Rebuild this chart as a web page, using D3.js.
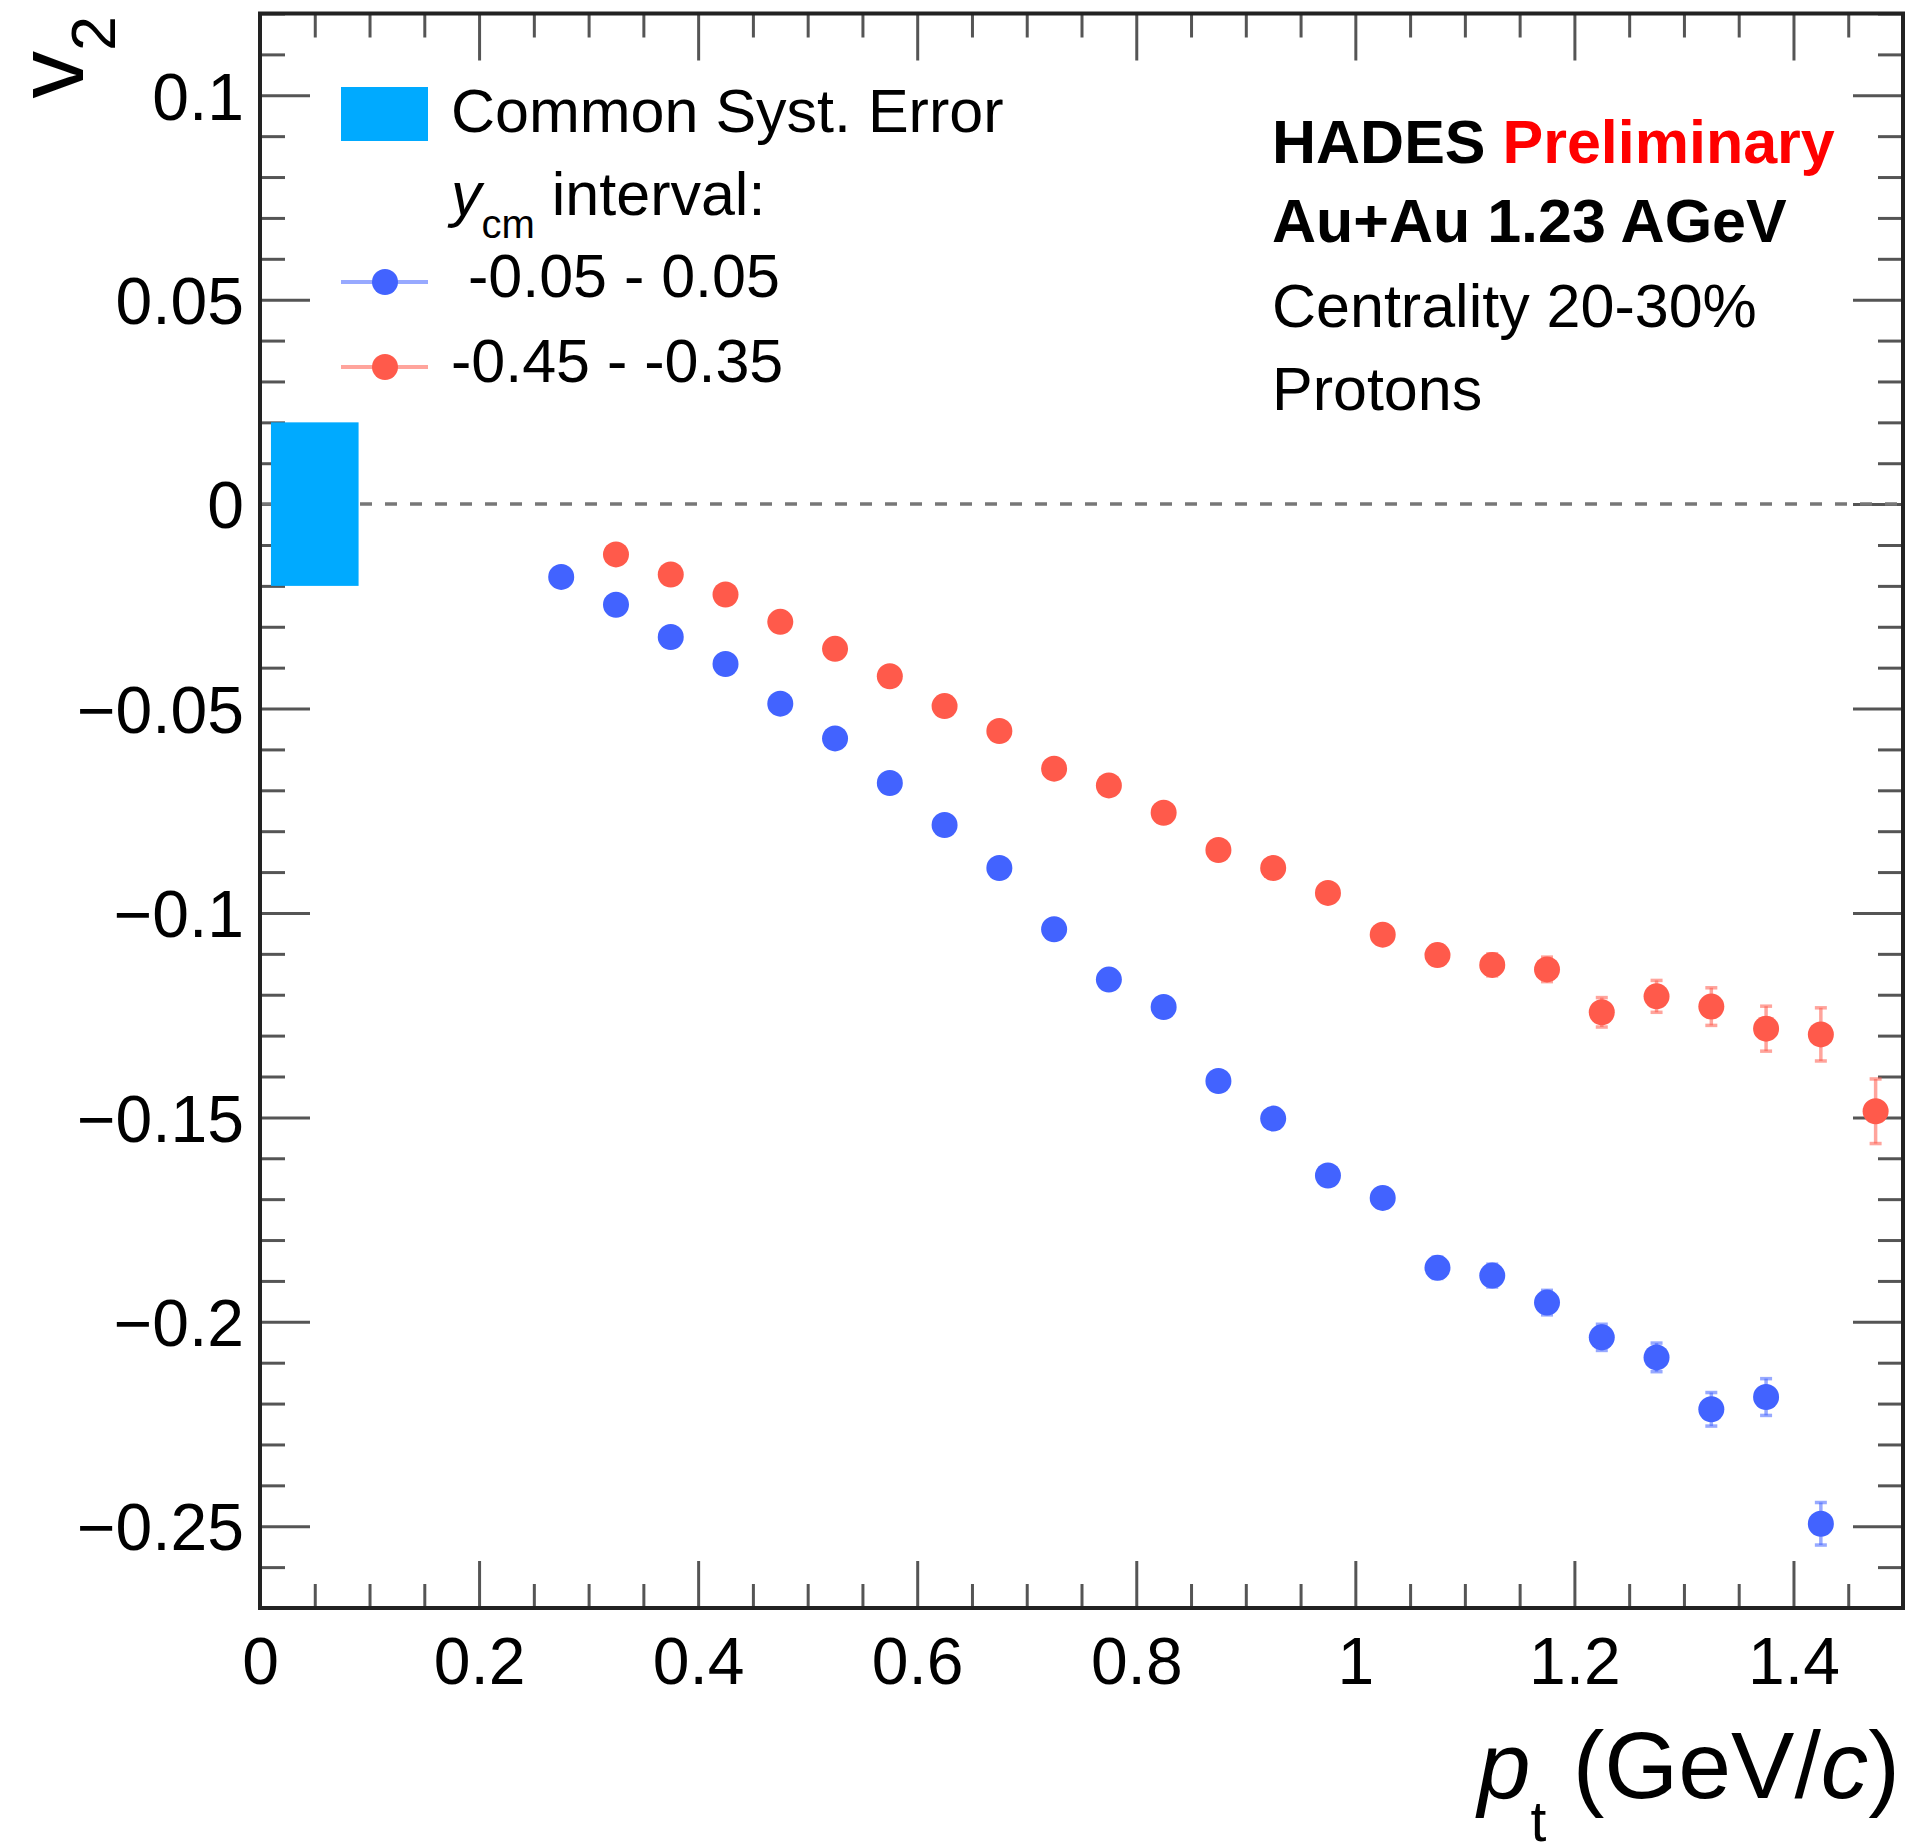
<!DOCTYPE html>
<html>
<head>
<meta charset="utf-8">
<script src="https://cdn.jsdelivr.net/npm/d3@7"></script>
<style>
  html, body { margin: 0; padding: 0; background: #fff; }
  svg { display: block; font-family: "Liberation Sans", Arial, Helvetica, sans-serif; }
</style>
</head>
<body>
<svg id="chart" width="1911" height="1847"></svg>
<script>
// ---------------- data ----------------
const xMajorTicks = [0, 0.2, 0.4, 0.6, 0.8, 1, 1.2, 1.4];
const yMajorTicks = [-0.25, -0.2, -0.15, -0.1, -0.05, 0, 0.05, 0.1];

const ptMid = [0.275, 0.325, 0.375, 0.425, 0.475, 0.525, 0.575, 0.625, 0.675, 0.725, 0.775, 0.825,
               0.875, 0.925, 0.975, 1.025, 1.075, 1.125, 1.175, 1.225, 1.275, 1.325, 1.375, 1.425];
const v2Mid = [-0.0178, -0.0246, -0.0325, -0.0391, -0.0488, -0.0573, -0.0682, -0.0785, -0.0890, -0.1040,
               -0.1163, -0.1230, -0.1411, -0.1503, -0.1642, -0.1697, -0.1868, -0.1887, -0.1953, -0.2038,
               -0.2087, -0.2214, -0.2184, -0.2494];
const errMid = [0.0008, 0.0008, 0.0009, 0.0010, 0.0010, 0.0011, 0.0012, 0.0013, 0.0014, 0.0015,
                0.0016, 0.0018, 0.0019, 0.0020, 0.0022, 0.0024, 0.0026, 0.0028, 0.0030, 0.0032,
                0.0035, 0.0041, 0.0045, 0.0052];

const ptBack = [0.325, 0.375, 0.425, 0.475, 0.525, 0.575, 0.625, 0.675, 0.725, 0.775, 0.825, 0.875,
                0.925, 0.975, 1.025, 1.075, 1.125, 1.175, 1.225, 1.275, 1.325, 1.375, 1.425, 1.475];
const v2Back = [-0.0123, -0.0172, -0.0221, -0.0288, -0.0354, -0.0421, -0.0494, -0.0555, -0.0647, -0.0688,
                -0.0755, -0.0846, -0.0890, -0.0951, -0.1053, -0.1103, -0.1127, -0.1138, -0.1243, -0.1204,
                -0.1229, -0.1283, -0.1297, -0.1485];
const errBack = [0.0008, 0.0009, 0.0009, 0.0010, 0.0011, 0.0012, 0.0013, 0.0014, 0.0015, 0.0016,
                 0.0017, 0.0018, 0.0020, 0.0021, 0.0023, 0.0025, 0.0027, 0.0030, 0.0036, 0.0039,
                 0.0046, 0.0055, 0.0065, 0.0079];

// common systematic error box: pt range and v2 range
const systPt = [0.01, 0.09];
const systV2 = [-0.02, 0.02];

const legendLabels = ["Common Syst. Error", " -0.05 - 0.05", "-0.45 - -0.35"];

// ---------------- layout ----------------
const svg = d3.select("#chart");
const L = 260, R = 1903, T = 13.5, B = 1608;
const x = d3.scaleLinear().domain([0, 1.5]).range([L, R]);
const y = d3.scaleLinear().domain([-0.27, 0.12]).range([B, T]);

const colMid = "#4263ff", colBack = "#ff5a4b";
const colMidLight = "rgba(66,99,255,0.55)", colBackLight = "rgba(255,90,75,0.55)";
const tickCol = "#555";

const xMinor = d3.range(0, 31).map(i => +(i * 0.05).toFixed(3)).filter(v => !xMajorTicks.includes(+v.toFixed(2)) && v <= 1.5);
const yMinor = d3.range(-27, 13).map(i => +(i * 0.01).toFixed(3)).filter(v => Math.round(v * 100) % 5 !== 0);

function styleAxis(g) {
  g.select(".domain").remove();
  g.selectAll(".tick line").attr("stroke", tickCol).attr("stroke-width", 3);
}

// bottom axis: major with labels
svg.append("g").attr("transform", `translate(0,${B})`)
  .call(d3.axisBottom(x).tickValues(xMajorTicks).tickSize(-47).tickPadding(29).tickFormat(d3.format("")))
  .call(styleAxis)
  .call(g => g.selectAll("text").attr("font-size", 66).attr("fill", "#000")
        .attr("font-family", "Liberation Sans, Arial, sans-serif"));
svg.append("g").attr("transform", `translate(0,${B})`)
  .call(d3.axisBottom(x).tickValues(xMinor).tickSize(-24).tickFormat(""))
  .call(styleAxis);
// top axis ticks
svg.append("g").attr("transform", `translate(0,${T})`)
  .call(d3.axisTop(x).tickValues(xMajorTicks).tickSize(-47).tickFormat(""))
  .call(styleAxis);
svg.append("g").attr("transform", `translate(0,${T})`)
  .call(d3.axisTop(x).tickValues(xMinor).tickSize(-24).tickFormat(""))
  .call(styleAxis);

// left axis
svg.append("g").attr("transform", `translate(${L},0)`)
  .call(d3.axisLeft(y).tickValues(yMajorTicks).tickSize(-50).tickPadding(16).tickFormat(d3.format("")))
  .call(styleAxis)
  .call(g => g.selectAll("text").attr("font-size", 66).attr("fill", "#000").attr("dy", "0.36em")
        .attr("font-family", "Liberation Sans, Arial, sans-serif"));
svg.append("g").attr("transform", `translate(${L},0)`)
  .call(d3.axisLeft(y).tickValues(yMinor).tickSize(-25).tickFormat(""))
  .call(styleAxis);
// right axis ticks
svg.append("g").attr("transform", `translate(${R},0)`)
  .call(d3.axisRight(y).tickValues(yMajorTicks).tickSize(-50).tickFormat(""))
  .call(styleAxis);
svg.append("g").attr("transform", `translate(${R},0)`)
  .call(d3.axisRight(y).tickValues(yMinor).tickSize(-25).tickFormat(""))
  .call(styleAxis);

// zero dashed line
svg.append("line")
  .attr("x1", x(0)).attr("x2", x(1.5)).attr("y1", y(0)).attr("y2", y(0))
  .attr("stroke", "#777").attr("stroke-width", 3.5).attr("stroke-dasharray", "12,13");

// systematic box
svg.append("rect")
  .attr("x", x(systPt[0])).attr("width", x(systPt[1]) - x(systPt[0]))
  .attr("y", y(systV2[1])).attr("height", y(systV2[0]) - y(systV2[1]))
  .attr("fill", "#00aaff");

// frame
svg.append("rect").attr("x", L).attr("y", T).attr("width", R - L).attr("height", B - T)
  .attr("fill", "none").attr("stroke", "#222").attr("stroke-width", 4);

// data series
function drawSeries(pts, vals, errs, col, colLight) {
  const data = pts.map((p, i) => ({ p, v: vals[i], e: errs[i] }));
  const g = svg.append("g");
  const eb = g.selectAll("g.err").data(data).join("g").attr("class", "err")
    .attr("stroke", colLight).attr("stroke-width", 3.5);
  eb.append("line").attr("x1", d => x(d.p)).attr("x2", d => x(d.p))
    .attr("y1", d => y(d.v + d.e)).attr("y2", d => y(d.v - d.e));
  eb.append("line").attr("x1", d => x(d.p) - 6).attr("x2", d => x(d.p) + 6)
    .attr("y1", d => y(d.v + d.e)).attr("y2", d => y(d.v + d.e));
  eb.append("line").attr("x1", d => x(d.p) - 6).attr("x2", d => x(d.p) + 6)
    .attr("y1", d => y(d.v - d.e)).attr("y2", d => y(d.v - d.e));
  g.selectAll("circle").data(data).join("circle")
    .attr("cx", d => x(d.p)).attr("cy", d => y(d.v)).attr("r", 13)
    .attr("fill", col);
}
drawSeries(ptMid, v2Mid, errMid, colMid, colMidLight);
drawSeries(ptBack, v2Back, errBack, colBack, colBackLight);

// legend
const lg = svg.append("g");
lg.append("rect").attr("x", 341).attr("y", 87).attr("width", 87).attr("height", 54).attr("fill", "#00aaff");
lg.append("text").attr("x", 451).attr("y", 132).attr("font-size", 61).text(legendLabels[0]);
const yt = lg.append("text").attr("x", 451).attr("y", 215).attr("font-size", 61);
yt.append("tspan").attr("font-style", "italic").text("y");
yt.append("tspan").attr("font-size", 40).attr("dy", 23).text("cm");
yt.append("tspan").attr("dy", -23).text(" interval:");

const entries = [
  { cy: 282, base: 297, col: colMid, light: colMidLight, label: legendLabels[1] },
  { cy: 367, base: 382, col: colBack, light: colBackLight, label: legendLabels[2] }
];
entries.forEach(e => {
  lg.append("line").attr("x1", 341).attr("x2", 428).attr("y1", e.cy).attr("y2", e.cy)
    .attr("stroke", e.light).attr("stroke-width", 4);
  lg.append("circle").attr("cx", 385).attr("cy", e.cy).attr("r", 13).attr("fill", e.col);
  lg.append("text").attr("x", 451).attr("y", e.base).attr("font-size", 61)
    .attr("xml:space", "preserve").style("white-space", "pre").text(e.label);
});

// annotation text
const ann = svg.append("g").attr("font-size", 61);
const t1 = ann.append("text").attr("x", 1272).attr("y", 163).attr("font-weight", "bold");
t1.append("tspan").text("HADES ");
t1.append("tspan").attr("fill", "#ff0000").text("Preliminary");
ann.append("text").attr("x", 1272).attr("y", 242).attr("font-weight", "bold").text("Au+Au 1.23 AGeV");
ann.append("text").attr("x", 1272).attr("y", 327).text("Centrality 20-30%");
ann.append("text").attr("x", 1272).attr("y", 410).text("Protons");

// x title
const xt = svg.append("text").attr("x", 1900).attr("y", 1798).attr("font-size", 95).attr("text-anchor", "end");
xt.append("tspan").attr("font-style", "italic").text("p");
xt.append("tspan").attr("font-size", 57).attr("dy", 43).text("t");
xt.append("tspan").attr("dy", -43).text(" (GeV/");
xt.append("tspan").attr("font-style", "italic").text("c");
xt.append("tspan").text(")");

// y title
const ytl = svg.append("text").attr("transform", "translate(83,16) rotate(-90)")
  .attr("font-size", 95).attr("text-anchor", "end");
ytl.append("tspan").text("v");
ytl.append("tspan").attr("font-size", 63).attr("dy", 32).text("2");
</script>
</body>
</html>
